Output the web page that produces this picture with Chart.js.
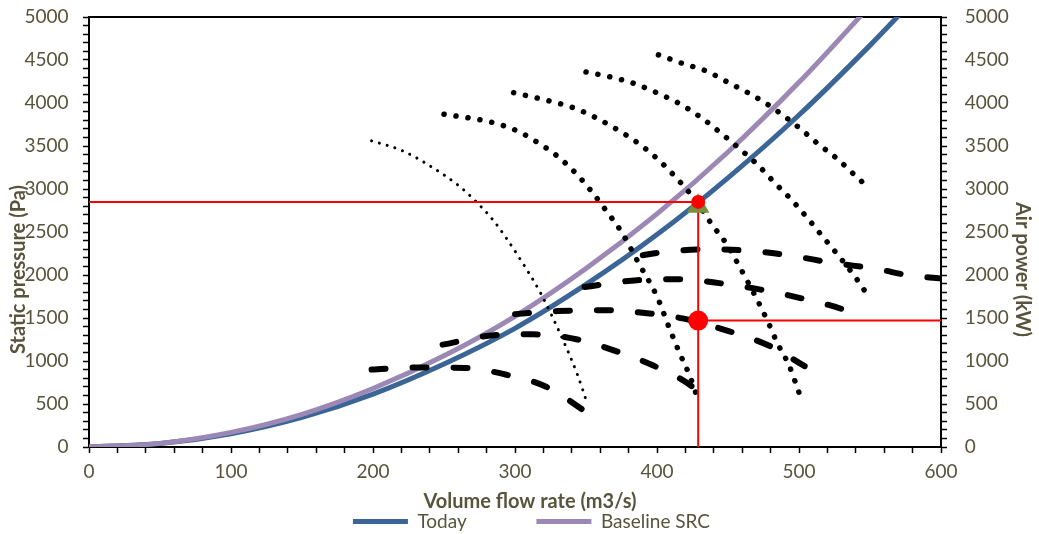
<!DOCTYPE html>
<html>
<head>
<meta charset="utf-8">
<script src="https://cdn.jsdelivr.net/npm/chart.js@4.4.1/dist/chart.umd.min.js"></script>
<style>
  body { margin: 0; background: #fff; }
  #box { width: 1039px; height: 534px; }
</style>
</head>
<body>
<div id="box"><canvas id="grafico"></canvas></div>
<script>
// system curves
const todayQ = [0, 50, 100, 150, 200, 250, 300, 350, 400, 450, 500, 550, 575];
const todayP = [0, 40, 155, 345, 615, 965, 1380, 1890, 2470, 3130, 3860, 4670, 5100];
const baseQ = [0, 50, 100, 150, 200, 250, 300, 350, 400, 450, 500, 550];
const baseP = [0, 42, 170, 380, 680, 1060, 1520, 2075, 2710, 3430, 4240, 5130];

// fan pressure curves (dotted)
const pres1Q = [199, 220, 238, 261, 274, 285, 293, 305, 318, 332, 344, 350];
const pres1P = [3560, 3450, 3290, 3030, 2830, 2630, 2450, 2150, 1790, 1310, 840, 550];
const pres2Q = [250, 285, 301, 316, 330, 343, 354, 365, 375, 387, 400, 409, 416, 423, 429];
const pres2P = [3870, 3770, 3680, 3540, 3380, 3180, 2970, 2730, 2500, 2140, 1750, 1370, 1090, 830, 550];
const pres3Q = [299, 325, 342, 358, 373, 387, 401, 413, 427, 439, 449, 458, 470, 478, 485, 493, 499, 502];
const pres3P = [4120, 4020, 3940, 3820, 3680, 3530, 3340, 3140, 2870, 2580, 2360, 2100, 1730, 1460, 1200, 950, 680, 540];
const pres4Q = [350, 368, 385, 401, 415, 432, 445, 458, 471, 483, 495, 506, 517, 528, 539, 549];
const pres4P = [4360, 4300, 4220, 4110, 4000, 3820, 3650, 3470, 3280, 3070, 2870, 2660, 2440, 2220, 1990, 1750];
const pres5Q = [401, 418, 435, 450, 465, 480, 501, 513, 527, 540, 546];
const pres5P = [4560, 4460, 4370, 4240, 4110, 3960, 3700, 3530, 3350, 3150, 3060];

// fan power curves (dashed, right axis)
const pow1Q = [199, 230, 265, 294, 322, 348, 353];
const pow1P = [900, 925, 920, 840, 700, 430, 370];
const pow2Q = [249, 285, 313, 344, 372, 397, 425, 428];
const pow2P = [1190, 1300, 1310, 1250, 1110, 950, 700, 650];
const pow3Q = [300, 330, 365, 393, 418, 451, 480, 504];
const pow3P = [1545, 1580, 1590, 1555, 1495, 1345, 1170, 940];
const pow4Q = [349, 386, 418, 446, 473, 504, 531, 542];
const pow4P = [1860, 1940, 1950, 1900, 1830, 1720, 1600, 1520];
const pow5Q = [390, 402, 436, 467, 496, 524, 555, 576, 600];
const pow5P = [2230, 2260, 2300, 2280, 2220, 2140, 2070, 2000, 1960];

// operating point
const opQ = 429;
const opPressure = 2850;
const opTriangle = 2800;
const opPower = 1470;

const eixoX = [0, 600];
const eixoY = [0, 5000];

const corTexto = '#58543C';
const em = '\u2003';
Chart.defaults.font.family = 'Lato';
Chart.defaults.font.size = 19;
Chart.defaults.color = corTexto;

function pontos(qs, ps) {
  return qs.map((q, i) => ({ x: q, y: ps[i] }));
}

function pontilhado(nome, qs, ps, largura, passo) {
  return {
    label: nome,
    data: pontos(qs, ps),
    borderColor: '#000',
    backgroundColor: '#000',
    borderWidth: largura,
    borderDash: [0.1, passo],
    borderCapStyle: 'round',
    pointRadius: 0,
    showLine: true,
    cubicInterpolationMode: 'monotone',
    order: 2
  };
}

function tracejado(nome, qs, ps) {
  return {
    label: nome,
    data: pontos(qs, ps),
    yAxisID: 'y2',
    borderColor: '#000',
    backgroundColor: '#000',
    borderWidth: 6,
    borderDash: [14, 27],
    borderCapStyle: 'round',
    pointRadius: 0,
    showLine: true,
    cubicInterpolationMode: 'monotone',
    order: 2
  };
}

function linhaVermelha(nome, xs, ys, eixo) {
  return {
    label: nome,
    data: pontos(xs, ys),
    yAxisID: eixo,
    borderColor: '#FF0000',
    backgroundColor: '#FF0000',
    borderWidth: 2,
    pointRadius: 0,
    showLine: true,
    order: 1
  };
}

const datasets = [
  {
    label: 'Today',
    data: pontos(todayQ, todayP),
    borderColor: '#3A6596',
    backgroundColor: '#3A6596',
    borderWidth: 5,
    pointRadius: 0,
    showLine: true,
    cubicInterpolationMode: 'monotone',
    order: 4
  },
  {
    label: 'Baseline SRC',
    data: pontos(baseQ, baseP),
    borderColor: '#9B88B5',
    backgroundColor: '#9B88B5',
    borderWidth: 5,
    pointRadius: 0,
    showLine: true,
    cubicInterpolationMode: 'monotone',
    order: 3
  },
  pontilhado('p1', pres1Q, pres1P, 3, 8),
  pontilhado('p2', pres2Q, pres2P, 5.5, 12),
  pontilhado('p3', pres3Q, pres3P, 5.5, 12),
  pontilhado('p4', pres4Q, pres4P, 5.5, 12),
  pontilhado('p5', pres5Q, pres5P, 5.5, 12),
  tracejado('w1', pow1Q, pow1P),
  tracejado('w2', pow2Q, pow2P),
  tracejado('w3', pow3Q, pow3P),
  tracejado('w4', pow4Q, pow4P),
  tracejado('w5', pow5Q, pow5P),
  linhaVermelha('r1', [0, opQ], [opPressure, opPressure], 'y'),
  linhaVermelha('r2', [opQ, opQ], [opPressure, 0], 'y'),
  linhaVermelha('r3', [opQ, 600], [opPower, opPower], 'y2'),
  {
    label: 'tri',
    data: [{ x: opQ, y: opTriangle }],
    pointStyle: 'triangle',
    pointRadius: 13,
    backgroundColor: '#76923C',
    borderColor: '#76923C',
    borderWidth: 0,
    order: 0.5
  },
  {
    label: 'pt',
    data: [{ x: opQ, y: opPressure }],
    pointRadius: 7,
    backgroundColor: '#FF0000',
    borderColor: '#FF0000',
    borderWidth: 0,
    order: 0
  },
  {
    label: 'pw',
    data: [{ x: opQ, y: opPower }],
    yAxisID: 'y2',
    pointRadius: 10,
    backgroundColor: '#FF0000',
    borderColor: '#FF0000',
    borderWidth: 0,
    order: 0
  }
];

function eixoVertical(pos, titulo, largura, rotulo, padTitulo) {
  return {
    type: 'linear',
    position: pos,
    min: eixoY[0],
    max: eixoY[1],
    afterFit: (a) => { a.width = largura; },
    border: { display: true, color: '#000', width: 2 },
    grid: { display: true, drawOnChartArea: false, color: '#000', tickLength: 6, tickWidth: 1.5 },
    ticks: {
      stepSize: 100,
      autoSkip: false,
      padding: 5,
      callback: (v) => (v % 500 == 0 ? rotulo(v) : '')
    },
    title: {
      display: true,
      text: titulo,
      font: { weight: 'bold', size: 20 },
      padding: { top: padTitulo, bottom: 0 }
    }
  };
}

new Chart(document.getElementById('grafico'), {
  type: 'scatter',
  data: { datasets: datasets },
  options: {
    responsive: true,
    maintainAspectRatio: false,
    animation: false,
    layout: { padding: { top: 17, left: 24, bottom: -7 } },
    plugins: {
      tooltip: { enabled: false },
      legend: {
        position: 'bottom',
        labels: {
          boxWidth: 55,
          boxHeight: 5,
          padding: 0,
          font: { size: 19 },
          sort: (a, b) => a.datasetIndex - b.datasetIndex,
          filter: (item) => item.text.indexOf('Today') == 0 || item.text == 'Baseline SRC',
          generateLabels: (chart) => {
            const itens = Chart.defaults.plugins.legend.labels.generateLabels(chart);
            itens.forEach((it) => {
              it.lineWidth = 0;
              if (it.text == 'Today') it.text = 'Today' + em + em + em + em + '\u2004\u2004';
            });
            return itens;
          }
        }
      }
    },
    scales: {
      x: {
        type: 'linear',
        position: 'bottom',
        min: eixoX[0],
        max: eixoX[1],
        afterFit: (a) => { a.height = 65; },
        border: { display: true, color: '#000', width: 2 },
        grid: { display: true, drawOnChartArea: false, color: '#000', tickLength: 6, tickWidth: 1.5 },
        ticks: {
          stepSize: 20,
          autoSkip: false,
          maxRotation: 0,
          padding: 7,
          callback: (v) => (v % 100 == 0 ? v : '')
        },
        title: {
          display: true,
          text: em + em + 'Volume flow rate (m3/s)',
          font: { weight: 'bold', size: 20 },
          padding: { top: 0, bottom: -2 }
        }
      },
      xTopo: {
        type: 'linear',
        position: 'top',
        min: eixoX[0],
        max: eixoX[1],
        afterFit: (a) => { a.height = 0; },
        border: { display: true, color: '#000', width: 2 },
        grid: { display: false },
        ticks: { display: false }
      },
      y: eixoVertical('left', 'Static pressure (Pa)' + em + em + em + em + em, 65,
        (v) => v + '\u2002', -17),
      y2: eixoVertical('right', em + em + em + em + em + 'Air power (kW)', 98,
        (v) => '\u2002\u2006' + v, 5)
    }
  }
});
</script>
</body>
</html>
